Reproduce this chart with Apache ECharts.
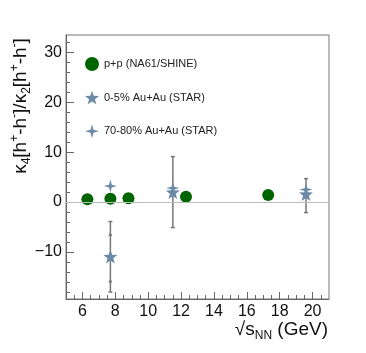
<!DOCTYPE html>
<html>
<head>
<meta charset="utf-8">
<script src="https://cdn.jsdelivr.net/npm/echarts@6/dist/echarts.min.js"></script>
<style>
  html, body { margin: 0; padding: 0; background: #fff; }
  #main { width: 366px; height: 353px; }
</style>
</head>
<body>
<div id="main"></div>
<script>
// p+p (NA61/SHINE)
var ppX = [6.3, 7.7, 8.8, 12.3, 17.3];
var ppY = [0.55, 0.65, 0.75, 1.05, 1.4];

// 0-5% Au+Au (STAR)
var centX = [7.7, 11.5, 19.6];
var centY = [-10.9, 2.0, 1.6];
var centLo = [-18.0, -5.1, -2.1];
var centHi = [-3.9, 9.1, 4.7];
var centStatLo = [-15.7, null, null];
var centStatHi = [-6.4, null, null];

// 70-80% Au+Au (STAR)
var periX = [7.7, 11.5, 19.6];
var periY = [3.2, 2.8, 2.5];

var xMajor = [6, 8, 10, 12, 14, 16, 18, 20];
var yMajor = [-10, 0, 10, 20, 30];

var xMinor = [], yMinor = [];
for (var v = 5.5; v < 21; v += 0.5) xMinor.push(v);
for (var w = -18; w <= 32; w += 2) yMinor.push(w);

function starPath(n, inner) {
  var pts = [];
  for (var i = 0; i < n * 2; i++) {
    var r = i % 2 === 0 ? 1 : inner;
    var a = -Math.PI / 2 + i * Math.PI / n;
    pts.push((50 + 50 * r * Math.cos(a)).toFixed(2) + ',' + (50 + 50 * r * Math.sin(a)).toFixed(2));
  }
  return 'path://M' + pts.join('L') + 'Z';
}

var blue = '#6c8aa6';
var green = '#006400';
var star5 = starPath(5, 0.42);
var star4 = starPath(4, 0.3);

function pairs(xs, ys) {
  return xs.map(function (x, i) { return [x, ys[i]]; });
}

var errData = centX.map(function (x, i) {
  return [x, centLo[i], centHi[i], centStatLo[i], centStatHi[i]];
});

function fmt(v) { return v < 0 ? '\u2212' + Math.abs(v) : '' + v; }

var font = '"Liberation Sans", Arial, sans-serif';

var option = {
  animation: false,
  grid: {
    left: 66, right: 37, top: 35, bottom: 54,
    show: true, borderColor: '#777', borderWidth: 1, backgroundColor: 'transparent'
  },
  legend: {
    orient: 'vertical',
    left: 80, top: 52,
    itemWidth: 14, itemHeight: 14,
    itemGap: 20,
    textStyle: { fontSize: 11, color: '#222', fontFamily: font },
    data: [
      { name: 'p+p (NA61/SHINE)', icon: 'circle' },
      { name: '0-5% Au+Au (STAR)', icon: star5 },
      { name: '70-80% Au+Au (STAR)', icon: star4 }
    ]
  },
  xAxis: [{
    type: 'value', min: 5, max: 21,
    axisLine: { show: true, onZero: false, lineStyle: { color: '#666' } },
    axisTick: { show: true, inside: true, length: 7, customValues: xMajor, lineStyle: { color: '#666' } },
    axisLabel: { customValues: xMajor, fontSize: 16, margin: 5, color: '#111', fontFamily: font },
    splitLine: { show: false }
  }, {
    type: 'value', min: 5, max: 21, position: 'bottom',
    axisLine: { show: false, onZero: false },
    axisTick: { show: true, inside: true, length: 4, customValues: xMinor, lineStyle: { color: '#666' } },
    axisLabel: { show: false },
    splitLine: { show: false }
  }],
  yAxis: [{
    type: 'value', min: -19.4, max: 33.45,
    axisLine: { show: true, onZero: false, lineStyle: { color: '#666' } },
    axisTick: { show: true, inside: true, length: 8, customValues: yMajor, lineStyle: { color: '#666' } },
    axisLabel: { customValues: yMajor, fontSize: 16, margin: 4, color: '#111', fontFamily: font, formatter: fmt },
    splitLine: { show: false }
  }, {
    type: 'value', min: -19.4, max: 33.45, position: 'left',
    axisLine: { show: false, onZero: false },
    axisTick: { show: true, inside: true, length: 4, customValues: yMinor, lineStyle: { color: '#666' } },
    axisLabel: { show: false },
    splitLine: { show: false }
  }],
  graphic: [{
    type: 'text',
    x: 21, y: 106,
    rotation: Math.PI / 2,
    style: {
      text: '{m|\u03ba}{b|4}{m|[h}{t|+}{m|-h}{t|-}{m|]/\u03ba}{b|2}{m|[h}{t|+}{m|-h}{t|-}{m|]}',
      align: 'center', verticalAlign: 'middle',
      fill: '#111',
      rich: {
        m: { fontSize: 19, fontFamily: font, fill: '#111', lineHeight: 24 },
        b: { fontSize: 12, fontFamily: font, fill: '#111', verticalAlign: 'bottom', lineHeight: 24 },
        t: { fontSize: 12, fontFamily: font, fill: '#111', verticalAlign: 'top', lineHeight: 24 }
      }
    }
  }, {
    type: 'text',
    right: 38, top: 320,
    style: {
      text: '{m|\u221as}{b|NN}{m| (GeV)}',
      fill: '#111',
      rich: {
        m: { fontSize: 19, fontFamily: font, fill: '#111', lineHeight: 24 },
        b: { fontSize: 12, fontFamily: font, fill: '#111', verticalAlign: 'bottom', lineHeight: 24 }
      }
    }
  }],
  series: [{
    type: 'custom',
    silent: true,
    z: 1,
    data: errData,
    renderItem: function (params, api) {
      var x = api.value(0);
      var p1 = api.coord([x, api.value(1)]);
      var p2 = api.coord([x, api.value(2)]);
      var style = { stroke: '#777', lineWidth: 1.5 };
      var kids = [
        { type: 'line', shape: { x1: p1[0], y1: p1[1], x2: p2[0], y2: p2[1] }, style: style },
        { type: 'line', shape: { x1: p1[0] - 2, y1: p1[1], x2: p1[0] + 2, y2: p1[1] }, style: style },
        { type: 'line', shape: { x1: p2[0] - 2, y1: p2[1], x2: p2[0] + 2, y2: p2[1] }, style: style }
      ];
      var s3 = api.value(3), s4 = api.value(4);
      if (!isNaN(s3) && !isNaN(s4)) {
        [s3, s4].forEach(function (s) {
          var q = api.coord([x, s]);
          kids.push({ type: 'polygon', shape: { points: [[q[0] - 2, q[1] + 2], [q[0] + 2, q[1] + 2], [q[0], q[1] - 2]] }, style: { fill: '#777' } });
        });
      }
      return { type: 'group', children: kids };
    }
  }, {
    name: 'p+p (NA61/SHINE)',
    type: 'scatter',
    symbol: 'circle', symbolSize: 12,
    itemStyle: { color: green, opacity: 1 },
    z: 3,
    data: pairs(ppX, ppY),
    markLine: {
      silent: true, symbol: 'none',
      label: { show: false },
      lineStyle: { color: '#bbb', width: 1, type: 'solid' },
      data: [{ yAxis: 0 }]
    }
  }, {
    name: '0-5% Au+Au (STAR)',
    type: 'scatter',
    symbol: star5, symbolSize: 14,
    itemStyle: { color: blue, opacity: 1 },
    z: 3,
    data: pairs(centX, centY)
  }, {
    name: '70-80% Au+Au (STAR)',
    type: 'scatter',
    symbol: star4, symbolSize: 13,
    itemStyle: { color: blue, opacity: 1 },
    z: 3,
    data: pairs(periX, periY)
  }]
};

var myChart = echarts.init(document.getElementById('main'));
myChart.setOption(option);
</script>
</body>
</html>
